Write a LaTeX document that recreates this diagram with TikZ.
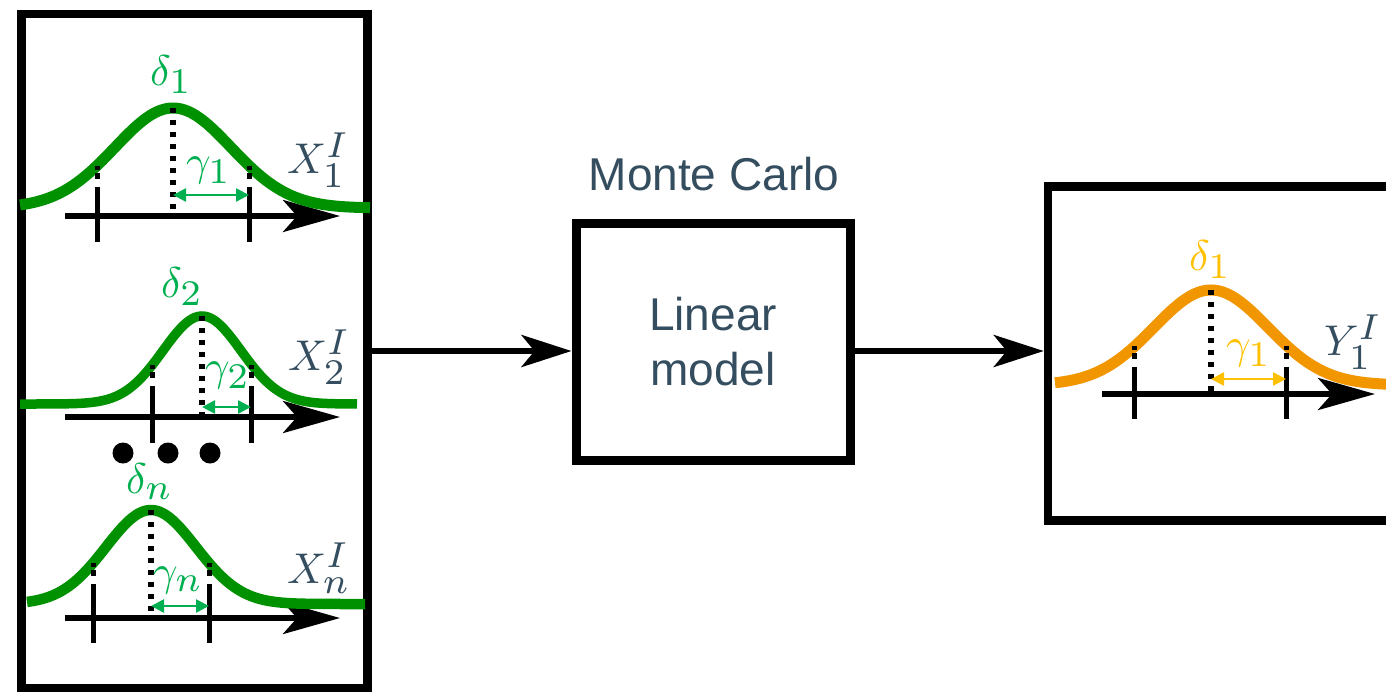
\documentclass[tikz,border=0pt]{standalone}
\usepackage{fontspec}
\newfontfamily\arialfont{Liberation Sans}
\usetikzlibrary{arrows.meta}
\definecolor{gcurve}{RGB}{0,145,0}
\definecolor{gtext}{RGB}{0,176,80}
\definecolor{ocurve}{RGB}{242,150,0}
\definecolor{ytext}{RGB}{255,192,0}
\definecolor{slate}{RGB}{52,77,95}
\newcommand\bigsub[1]{\scalebox{1.2}{$\scriptstyle #1$}}
\newcommand\glab[2]{\scalebox{4.3}{$#1_{\bigsub{#2}}$}}
\newcommand\xlabel[2]{\scalebox{4.3}{$#1_{\bigsub{#2}}^{\bigsub{I}}$}}
\begin{document}
\begin{tikzpicture}[x=1pt,y=-1pt,
  box/.style={draw=black, line width=8.5pt, inner sep=0pt},
  flow/.style={line width=6pt, -{Stealth[length=50pt,width=32pt,inset=13pt]}},
  axisline/.style={line width=5.5pt, -{Stealth[length=57pt,width=32pt,inset=14pt]}},
  tickline/.style={line width=5pt, dash pattern=on 4pt off 3pt on 6pt off 8pt on 300pt},
  centerline/.style={line width=6pt, dash pattern=on 5pt off 7pt},
  garrow/.style={line width=2.5pt, {Triangle[length=13pt,width=13pt]}-{Triangle[length=13pt,width=13pt]}},
  gauss/.style={line width=10.5pt},
  greek/.style={anchor=base west, inner sep=0pt},
  xlab/.style={anchor=base west, inner sep=0pt, text=slate},
  dotc/.style={circle, fill=black, minimum size=21pt, inner sep=0pt},
  sans/.style={text=slate, font=\arialfont\fontsize{46}{55}\selectfont, align=center}
]
\clip (0,0) rectangle (1386,694);
\fill[white] (0,0) rectangle (1386,694);

% boxes
\node[box, minimum width=346pt, minimum height=674pt] (inbox) at (194.5,351) {};
\node[box, line width=9pt, minimum width=274pt, minimum height=237pt, sans] (model) at (713,341.5) {Linear\\model};
\node[box, minimum width=352pt, minimum height=334pt] (outbox) at (1224,353.5) {};
\node[sans, anchor=base, inner sep=0pt] (mc) at (714,190) {Monte Carlo};

% connectors
\draw[flow] (inbox.east) -- (inbox.east -| model.west);
\draw[flow] (model.east |- inbox.east) -- (outbox.west |- inbox.east);

% ---- input 1
\draw[axisline] (65,216) -- (340,216);
\draw[gauss, gcurve, line width=11pt] plot[domain=20:370, samples=120, smooth] (\x, {208-100*exp(-0.5*((\x-173)/58)*((\x-173)/58))});
\draw[tickline] (97,165.6) -- (97,242);
\draw[tickline] (249,165.6) -- (249,242);
\draw[centerline] (173,108) -- (173,216);
\draw[garrow, gtext] (173,195) -- (249,195);
\node[greek, text=gtext] (d1) at (150,85) {\glab{\delta}{1}};
\node[greek, text=gtext] (g1) at (186,175) {\glab{\gamma}{1}};
\node[xlab] (x1) at (287,173) {\xlabel{X}{1}};

% ---- input 2
\draw[axisline] (65,417) -- (340,417);
\draw[gauss, gcurve, line width=9.5pt] plot[domain=20:357, samples=120, smooth] (\x, {404-88*exp(-0.5*((\x-202)/39)*((\x-202)/39))});
\draw[tickline] (152,365.3) -- (152,443);
\draw[tickline] (251,365.3) -- (251,443);
\draw[centerline] (202,316) -- (202,417);
\draw[garrow, gtext] (202,407) -- (251,407);
\node[greek, text=gtext] (d2) at (161,297) {\glab{\delta}{2}};
\node[greek, text=gtext] (g2) at (205,380) {\glab{\gamma}{2}};
\node[xlab] (x2) at (288,370) {\xlabel{X}{2}};

% dots
\node[dotc] (e1) at (123,453) {};
\node[dotc] (e2) at (168,453) {};
\node[dotc] (e3) at (210,453) {};

% ---- input n
\draw[axisline] (65,618) -- (340,618);
\draw[gauss, gcurve, line width=10.5pt] plot[domain=27:365, samples=120, smooth] (\x, {604-94*exp(-0.5*((\x-151)/45)*((\x-151)/45))});
\draw[tickline] (93,563) -- (93,643);
\draw[tickline] (209,563) -- (209,643);
\draw[centerline] (151,510) -- (151,618);
\draw[garrow, gtext] (151,606) -- (209,606);
\node[greek, text=gtext] (dn) at (126,493) {\glab{\delta}{n}};
\node[greek, text=gtext] (gn) at (153,585) {\glab{\gamma}{n}};
\node[xlab] (xn) at (287,583) {\xlabel{X}{n}};

% ---- output
\draw[axisline] (1102,394) -- (1375,394);
\draw[gauss, ocurve, line width=11pt] plot[domain=1055:1400, samples=120, smooth] (\x, {385-95*exp(-0.5*((\x-1211)/57)*((\x-1211)/57))});
\draw[tickline] (1134,346) -- (1134,419);
\draw[tickline] (1286,346) -- (1286,419);
\draw[centerline] (1211,290) -- (1211,394);
\draw[garrow, ytext] (1211,379) -- (1286,379);
\node[greek, text=ytext] (dy) at (1189,270) {\glab{\delta}{1}};
\node[greek, text=ytext] (gy) at (1226,358) {\glab{\gamma}{1}};
\node[xlab] (y1) at (1324,355) {\xlabel{Y}{1}};
\end{tikzpicture}
\end{document}
